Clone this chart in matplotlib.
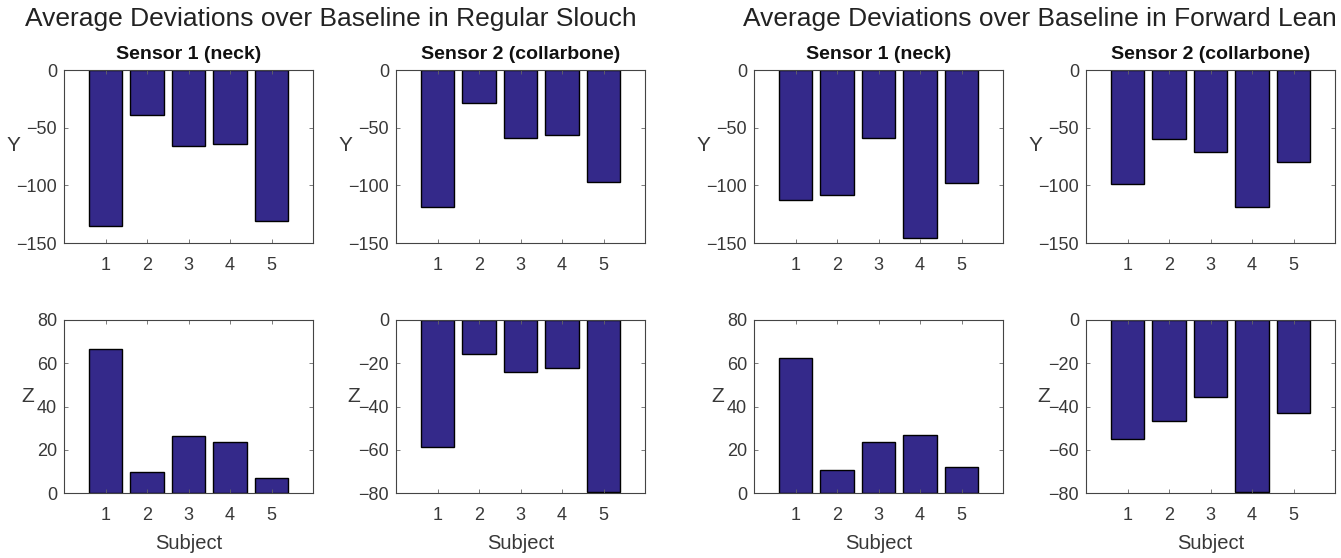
import matplotlib
matplotlib.use('Agg')
import matplotlib.pyplot as plt
import numpy as np

plt.rcParams['font.family'] = ['Liberation Sans', 'DejaVu Sans']

subjects = [1, 2, 3, 4, 5]

# Regular Slouch
slouch_s1_y = [-135, -39, -66, -64.5, -131]
slouch_s2_y = [-119, -28.5, -59, -56, -97]
slouch_s1_z = [66.4, 9.6, 26.4, 23.8, 7.0]
slouch_s2_z = [-58.5, -15.8, -23.9, -22.2, -79.5]

# Forward Lean
lean_s1_y = [-113, -108.6, -59, -145.7, -98.3]
lean_s2_y = [-99, -59.7, -71.4, -119, -79.4]
lean_s1_z = [62.2, 10.8, 23.8, 26.8, 11.9]
lean_s2_z = [-54.9, -46.9, -35.8, -79.5, -43.1]

sup_titles = ['Average Deviations over Baseline in Regular Slouch',
              'Average Deviations over Baseline in Forward Lean']
sensor_titles = ['Sensor 1 (neck)', 'Sensor 2 (collarbone)']

bar_color = '#34298a'
txt_color = '#383838'

fig = plt.figure(figsize=(13.41, 5.58), dpi=100)
W, H = 1341.0, 558.0

lefts = [64, 396, 754, 1086]
ax_w = 249
top_row = (70, 243)
bot_row = (320, 493)

panels = [
    # (column, row, data, ylim, yticks, label, title)
    (0, 0, slouch_s1_y, (-150, 0), [-150, -100, -50, 0], 'Y', sensor_titles[0]),
    (1, 0, slouch_s2_y, (-150, 0), [-150, -100, -50, 0], 'Y', sensor_titles[1]),
    (2, 0, lean_s1_y, (-150, 0), [-150, -100, -50, 0], 'Y', sensor_titles[0]),
    (3, 0, lean_s2_y, (-150, 0), [-150, -100, -50, 0], 'Y', sensor_titles[1]),
    (0, 1, slouch_s1_z, (0, 80), [0, 20, 40, 60, 80], 'Z', None),
    (1, 1, slouch_s2_z, (-80, 0), [-80, -60, -40, -20, 0], 'Z', None),
    (2, 1, lean_s1_z, (0, 80), [0, 20, 40, 60, 80], 'Z', None),
    (3, 1, lean_s2_z, (-80, 0), [-80, -60, -40, -20, 0], 'Z', None),
]

for col, row, vals, ylim, yticks, lab, title in panels:
    top, bottom = top_row if row == 0 else bot_row
    ax = fig.add_axes([lefts[col] / W, 1 - bottom / H, ax_w / W, (bottom - top) / H])
    ax.bar(subjects, vals, width=0.8, color=bar_color, edgecolor='black', linewidth=1.0)
    ax.set_xlim(0, 6)
    ax.set_ylim(*ylim)
    ax.set_xticks(subjects)
    ax.set_yticks(yticks)
    ax.tick_params(direction='in', top=True, right=True, length=3, width=0.6,
                   colors='#666666', labelcolor=txt_color, labelsize=13)
    ax.tick_params(axis='x', pad=10)
    ax.tick_params(axis='y', pad=5)
    for sp in ax.spines.values():
        sp.set_color('#444444')
        sp.set_linewidth(0.8)
    ax.set_ylabel(lab, rotation=0, fontsize=15, color=txt_color, va='center', ha='center')
    if lab == 'Y':
        lx, ly = -0.205, 0.566
    elif ylim[0] < 0:
        lx, ly = -0.17, 0.555
    else:
        lx, ly = -0.145, 0.555
    ax.yaxis.set_label_coords(lx, ly)
    if title:
        ax.set_title(title, fontsize=14, fontweight='bold', color='#111111', pad=8)
    if row == 1:
        ax.set_xlabel('Subject', fontsize=14.5, color=txt_color, labelpad=7)

fig.text(331 / W, 1 - 19 / H, sup_titles[0], ha='center', va='center', fontsize=19, color='#222222')
fig.text(1040 / W, 1 - 19 / H, sup_titles[1], ha='center', va='center', fontsize=19, color='#222222')

plt.savefig('out.png', dpi=100)
